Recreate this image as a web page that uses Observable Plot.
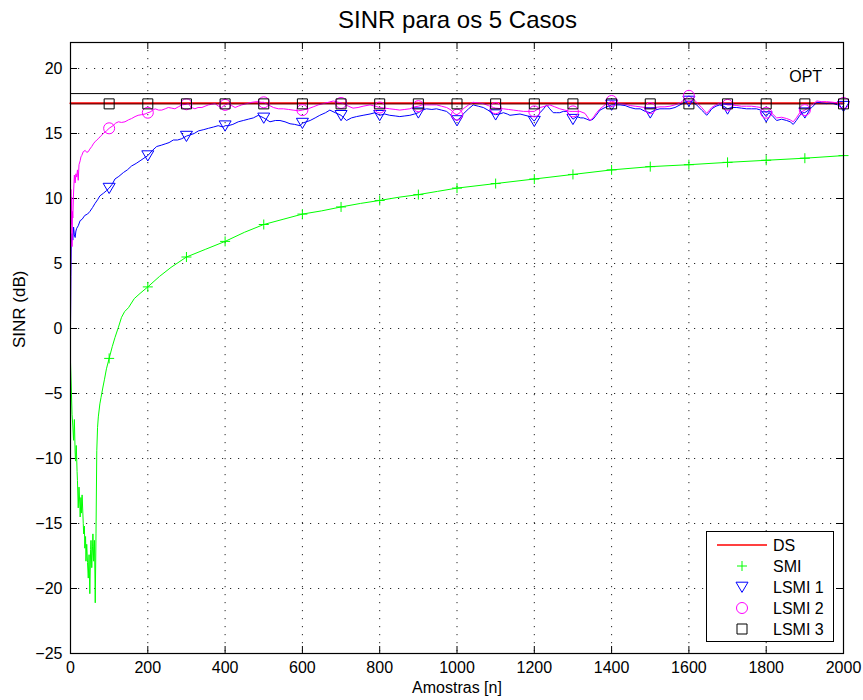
<!DOCTYPE html>
<html><head><meta charset="utf-8">
<script src="https://cdn.jsdelivr.net/npm/d3@7"></script>
<script src="https://cdn.jsdelivr.net/npm/@observablehq/plot@0.6"></script>
<style>
body{margin:0;background:#fff;font-family:"Liberation Sans",Arial,Helvetica,sans-serif;}
#wrap{position:relative;width:863px;height:700px;overflow:hidden;}
#title{height:34px;position:relative;}
#title span{position:absolute;left:52px;width:811px;top:7px;text-align:center;font-size:24px;line-height:26px;color:#000;}
#legend{position:absolute;left:706px;top:531px;width:128px;height:111px;border:1px solid #000;background:#fff;box-sizing:border-box;}
#legend svg{display:block;}
</style></head><body>
<div id="wrap"><div id="title"><span>SINR para os 5 Casos</span></div><div id="chart"></div><div id="legend"></div></div>
<script>
// ---- tick labels / categories ----
const xTicks = [0, 200, 400, 600, 800, 1000, 1200, 1400, 1600, 1800, 2000];
const yTicks = [-25, -20, -15, -10, -5, 0, 5, 10, 15, 20];
const seriesNames = ["DS", "SMI", "LSMI 1", "LSMI 2", "LSMI 3"];
const seriesColors = ["#ff0000", "#00ff00", "#0000ff", "#ff00ff", "#000000"];

// ---- reference levels ----
const dsLevel = [[0, 17.33], [2000, 17.33]];
const optLevel = [[0, 18.07], [2000, 18.07]];
const optLabel = [{x: 1902, y: 19.38, text: "OPT"}];

// ---- SMI ----
const smi = [[0,-2.6],[2,-4.5],[4,-6.6],[6,-7.5],[8,-8.6],[10,-7.0],[12,-9.5],[13,-10.2],[15,-9.0],[17,-11.0],[18,-11.7],[20,-13.8],[22,-12.2],[24,-13.5],[25,-14.5],[27,-13.0],[28,-14.2],[30,-12.8],[31,-13.5],[33,-15.0],[34,-15.8],[36,-15.2],[37,-16.9],[39,-16.0],[40,-17.9],[42,-16.6],[44,-18.0],[46,-19.2],[48,-17.4],[50,-20.4],[52,-17.0],[53,-16.3],[55,-18.4],[57,-16.8],[58,-15.8],[60,-17.9],[62,-16.3],[63,-18.5],[64,-21.1],[66,-15.8],[67,-12.5],[68,-9.4],[70,-7.6],[72,-6.8],[76,-5.8],[79,-5.3],[84,-4.5],[88,-3.9],[93,-3.1],[100,-2.3],[108,-1.4],[115,-0.7],[124,0.1],[132,0.86],[140,1.3],[150,1.6],[165,2.3],[180,2.7],[200,3.2],[230,4.0],[260,4.7],[300,5.5],[350,6.1],[400,6.7],[450,7.4],[500,8.0],[550,8.4],[600,8.8],[650,9.05],[700,9.35],[750,9.62],[800,9.85],[850,10.1],[900,10.3],[950,10.55],[1000,10.8],[1100,11.15],[1200,11.5],[1300,11.85],[1400,12.2],[1500,12.45],[1600,12.6],[1700,12.78],[1800,12.94],[1900,13.1],[2000,13.3]];

// ---- LSMI 1 ----
const lsmi1 = [[0,0],[1,4],[2,6.5],[4,7.3],[6,6.8],[8,7.8],[10,7.2],[12,7.0],[14,7.5],[16,7.7],[20,7.9],[25,8.3],[30,8.4],[37,8.7],[44,8.8],[50,9.0],[57,9.3],[63,9.6],[70,9.9],[76,10.2],[85,10.4],[93,10.6],[100,10.8],[108,11.1],[115,11.5],[125,11.7],[137,12.0],[147,12.2],[158,12.5],[170,12.7],[180,12.9],[190,13.1],[200,13.3],[212,13.7],[223,14.0],[235,14.1],[245,14.2],[255,14.3],[266,14.5],[277,14.5],[288,14.6],[300,14.8],[310,14.9],[320,15.0],[331,15.2],[345,15.3],[357,15.4],[370,15.5],[382,15.6],[395,15.5],[400,15.6],[408,15.6],[420,15.7],[434,15.9],[447,16.0],[460,16.1],[473,16.2],[486,16.4],[500,16.2],[516,15.9],[530,16.0],[542,16.0],[555,15.9],[568,15.75],[580,15.7],[594,15.6],[600,15.8],[610,15.9],[620,16.0],[633,16.2],[645,16.4],[660,16.6],[671,16.8],[685,16.6],[700,16.4],[707,16.2],[714,16.0],[727,16.2],[740,16.3],[757,16.4],[775,16.5],[788,16.6],[800,16.4],[813,16.5],[826,16.4],[840,16.35],[852,16.3],[865,16.35],[878,16.4],[890,16.5],[900,16.6],[910,16.8],[921,16.9],[935,16.85],[947,16.9],[960,16.8],[973,16.7],[985,16.4],[994,16.1],[1000,16.0],[1008,16.2],[1016,16.5],[1030,16.9],[1042,17.2],[1055,17.1],[1068,17.0],[1080,16.8],[1094,16.5],[1100,16.45],[1110,16.5],[1120,16.6],[1130,16.5],[1137,16.4],[1150,16.45],[1163,16.5],[1176,16.4],[1189,16.3],[1195,16.1],[1200,15.95],[1208,16.3],[1215,16.6],[1224,16.9],[1232,17.2],[1240,16.9],[1249,16.6],[1258,16.6],[1266,16.6],[1275,16.7],[1284,16.7],[1292,16.4],[1300,16.1],[1310,16.3],[1320,16.2],[1327,16.2],[1336,16.1],[1344,16.0],[1352,16.1],[1360,16.4],[1370,16.8],[1383,17.0],[1400,17.2],[1410,17.2],[1422,17.2],[1435,17.15],[1448,17.0],[1461,16.9],[1474,16.9],[1487,16.7],[1500,16.6],[1512,16.8],[1525,16.9],[1538,16.9],[1551,16.9],[1564,17.0],[1577,17.2],[1590,17.4],[1600,17.5],[1610,17.4],[1620,17.2],[1633,16.8],[1640,16.6],[1646,16.4],[1652,16.6],[1659,16.9],[1670,17.1],[1680,17.2],[1690,17.1],[1700,16.9],[1710,17.0],[1724,17.0],[1736,16.95],[1749,16.9],[1762,16.9],[1775,16.9],[1786,16.8],[1800,16.3],[1807,16.6],[1815,16.4],[1827,16.0],[1840,16.1],[1853,16.0],[1862,15.9],[1870,15.7],[1878,16.0],[1887,16.4],[1895,16.6],[1900,16.6],[1918,17.0],[1931,17.4],[1944,17.35],[1956,17.3],[1965,17.35],[1974,17.3],[1985,17.2],[1995,17.0],[2000,17.1]];

// ---- LSMI 2 ----
const lsmi2 = [[0,0],[1,10.7],[2,8.0],[3,10.1],[4,6.3],[5,9.0],[6,8.5],[8,10.5],[10,11.8],[12,11.2],[14,11.9],[16,11.65],[18,12.2],[20,11.4],[22,12.6],[25,12.9],[27,13.2],[29,13.3],[33,13.6],[38,13.7],[42,13.55],[46,13.6],[50,13.8],[55,14.0],[59,14.2],[63,14.35],[68,14.5],[72,14.6],[78,14.8],[85,15.0],[93,15.2],[100,15.4],[110,15.6],[117,15.8],[124,15.9],[132,15.85],[141,15.9],[150,16.05],[158,16.15],[167,16.3],[175,16.4],[184,16.45],[193,16.5],[200,16.6],[206,16.65],[213,16.8],[219,16.9],[228,16.8],[236,16.8],[245,16.9],[253,17.0],[262,16.95],[270,16.9],[279,17.05],[288,17.2],[300,17.25],[305,17.3],[313,17.0],[322,16.9],[330,17.0],[340,17.0],[348,17.1],[357,17.2],[365,17.25],[374,17.3],[383,17.1],[391,17.0],[400,17.2],[408,17.3],[417,17.15],[426,17.0],[434,17.1],[443,17.2],[456,17.3],[469,17.4],[482,17.45],[494,17.4],[500,17.4],[512,17.2],[525,17.0],[538,16.9],[551,16.9],[564,16.85],[576,16.8],[590,16.75],[600,16.8],[615,16.9],[628,17.05],[641,17.2],[654,17.3],[667,17.4],[680,17.5],[693,17.4],[700,17.35],[706,17.3],[719,17.1],[731,16.95],[744,17.0],[757,17.1],[775,17.2],[788,17.1],[800,17.0],[813,16.95],[826,16.9],[840,16.85],[852,16.8],[865,16.85],[878,16.9],[890,17.05],[900,17.1],[910,17.2],[921,17.2],[935,17.2],[947,17.2],[960,17.1],[973,17.0],[985,16.8],[994,16.5],[1000,16.45],[1008,16.6],[1016,16.9],[1030,17.2],[1042,17.4],[1055,17.35],[1068,17.3],[1081,17.15],[1094,17.0],[1100,16.95],[1120,16.9],[1133,16.85],[1146,16.8],[1159,16.75],[1172,16.7],[1189,16.7],[1200,16.7],[1215,17.0],[1228,17.1],[1240,17.2],[1253,17.05],[1266,16.9],[1279,16.8],[1292,16.7],[1300,16.7],[1318,16.7],[1331,16.55],[1344,16.0],[1352,16.2],[1361,16.6],[1370,16.9],[1383,17.2],[1400,17.5],[1409,17.4],[1422,17.3],[1435,17.25],[1448,17.15],[1461,17.1],[1474,17.05],[1487,17.0],[1500,16.95],[1512,17.0],[1525,17.05],[1538,17.05],[1551,17.1],[1564,17.2],[1577,17.35],[1590,17.65],[1600,17.9],[1610,17.7],[1620,17.4],[1633,17.0],[1646,16.55],[1659,17.0],[1670,17.2],[1680,17.35],[1690,17.3],[1700,17.2],[1710,17.2],[1724,17.15],[1736,17.1],[1749,17.1],[1762,17.1],[1775,17.05],[1786,17.0],[1800,16.6],[1807,16.8],[1815,16.55],[1827,16.2],[1840,16.25],[1853,16.15],[1862,16.05],[1870,15.9],[1878,16.2],[1887,16.6],[1900,16.8],[1905,16.9],[1918,17.2],[1931,17.5],[1944,17.45],[1956,17.45],[1974,17.4],[1985,17.35],[1995,17.3],[2000,17.35]];

// ---- LSMI 3 ----
const lsmi3 = [[0,17.28],[100,17.28],[200,17.28],[300,17.28],[400,17.28],[500,17.28],[600,17.28],[700,17.28],[800,17.28],[900,17.28],[1000,17.28],[1100,17.28],[1200,17.28],[1300,17.28],[1400,17.28],[1500,17.28],[1600,17.28],[1700,17.28],[1800,17.28],[1900,17.28],[2000,17.28]];

// ---- marker shapes (MATLAB style) ----
const symPlus = {draw(ctx, size){const r = Math.sqrt(size/Math.PI); ctx.moveTo(-r,0); ctx.lineTo(r,0); ctx.moveTo(0,-r); ctx.lineTo(0,r);}};
const symTriDown = {draw(ctx, size){const r = Math.sqrt(size/Math.PI); ctx.moveTo(-r,-r*0.8); ctx.lineTo(r,-r*0.8); ctx.lineTo(0,r*0.9); ctx.closePath();}};
const symCircle = {draw(ctx, size){const r = Math.sqrt(size/Math.PI); ctx.moveTo(r,0); ctx.arc(0,0,r,0,2*Math.PI);}};
const symSquare = {draw(ctx, size){const r = Math.sqrt(size/Math.PI); ctx.rect(-r,-r,2*r,2*r);}};
const markerSpecs = [null, {sym: symPlus, r: 5}, {sym: symTriDown, r: 6}, {sym: symCircle, r: 5.5}, {sym: symSquare, r: 5}];

const seriesData = [dsLevel, smi, lsmi1, lsmi2, lsmi3];
const markersOf = s => s.filter(([x]) => x > 0 && x % 100 === 0);
const fmt = d => d < 0 ? "\u2212" + (-d) : String(d);

const W = 863, H = 666;
const mL = 70, mR = 20, mT = 8, mB = 47;
const fw = W - mL - mR, fh = H - mT - mB;
const X = d => d[0], Y = d => d[1];

const marks = [
  // grid
  Plot.ruleX(xTicks.slice(1, -1), {x: d => d, stroke: "#000", strokeOpacity: 0.85, strokeDasharray: "1.2,6.8"}),
  Plot.ruleY(yTicks.slice(1), {y: d => d, stroke: "#000", strokeOpacity: 0.85, strokeDasharray: "1.2,6.8"}),
  // inward ticks on all four sides
  Plot.ruleX(xTicks, {x: d => d, insetTop: fh - 7, stroke: "#000"}),
  Plot.ruleX(xTicks, {x: d => d, insetBottom: fh - 7, stroke: "#000"}),
  Plot.ruleY(yTicks, {y: d => d, insetRight: fw - 7, stroke: "#000"}),
  Plot.ruleY(yTicks, {y: d => d, insetLeft: fw - 7, stroke: "#000"}),
  // OPT level
  Plot.line(optLevel, {x: X, y: Y, stroke: "#000", strokeWidth: 1}),
  Plot.text(optLabel, {x: "x", y: "y", text: "text", fontSize: 16, fill: "#000"}),
  // DS
  Plot.line(dsLevel, {x: X, y: Y, stroke: seriesColors[0], strokeWidth: 2})
];
for (let i = 1; i < seriesData.length; i++) {
  marks.push(Plot.line(seriesData[i], {x: X, y: Y, stroke: seriesColors[i], strokeWidth: i === 4 ? 1.6 : 1, strokeOpacity: i === 4 ? 0.4 : 1}));
}
for (let i = 1; i < seriesData.length; i++) {
  const m = markerSpecs[i];
  marks.push(Plot.dot(markersOf(seriesData[i]), {x: X, y: Y, symbol: m.sym, r: m.r, fill: "none", stroke: seriesColors[i], strokeWidth: 1}));
}
marks.push(
  Plot.text(xTicks, {x: d => d, text: d => String(d), frameAnchor: "bottom", lineAnchor: "top", dy: 8, fontSize: 16, fill: "#000"}),
  Plot.text(yTicks, {y: d => d, text: fmt, frameAnchor: "left", textAnchor: "end", dx: -8, fontSize: 16, fill: "#000"}),
  Plot.text(["Amostras [n]"], {text: d => d, frameAnchor: "bottom", lineAnchor: "bottom", dy: 39, fontSize: 16, fill: "#000"}),
  Plot.text(["SINR (dB)"], {text: d => d, frameAnchor: "left", rotate: -90, lineAnchor: "bottom", dx: -46, fontSize: 17, fill: "#000"}),
  Plot.frame({stroke: "#000", strokeWidth: 1.2})
);

const chart = Plot.plot({
  width: W, height: H,
  marginLeft: mL, marginRight: mR, marginTop: mT, marginBottom: mB,
  style: {fontFamily: "'Liberation Sans', Arial, Helvetica, sans-serif", fontSize: "16px", background: "#fff", color: "#000"},
  x: {domain: [0, 2000], axis: null},
  y: {domain: [-25, 22], axis: null},
  marks
});
document.getElementById("chart").appendChild(chart);

// ---- legend (inside the axes, lower right) ----
const leg = d3.select("#legend").append("svg").attr("width", 126).attr("height", 109)
  .style("font-family", "'Liberation Sans', Arial, sans-serif").style("font-size", "16px");
seriesNames.forEach((name, i) => {
  const cy = 13 + i * 21;
  if (i === 0) {
    leg.append("line").attr("x1", 10).attr("x2", 60).attr("y1", cy).attr("y2", cy).attr("stroke", seriesColors[0]).attr("stroke-width", 1.5);
  } else {
    const m = markerSpecs[i];
    leg.append("path").attr("d", d3.symbol(m.sym, m.r * m.r * Math.PI)()).attr("transform", `translate(35,${cy})`)
      .attr("fill", "none").attr("stroke", seriesColors[i]).attr("stroke-width", 1);
  }
  leg.append("text").attr("x", 66).attr("y", cy).attr("dy", "0.35em").attr("fill", "#000").text(name);
});
</script>
</body></html>
